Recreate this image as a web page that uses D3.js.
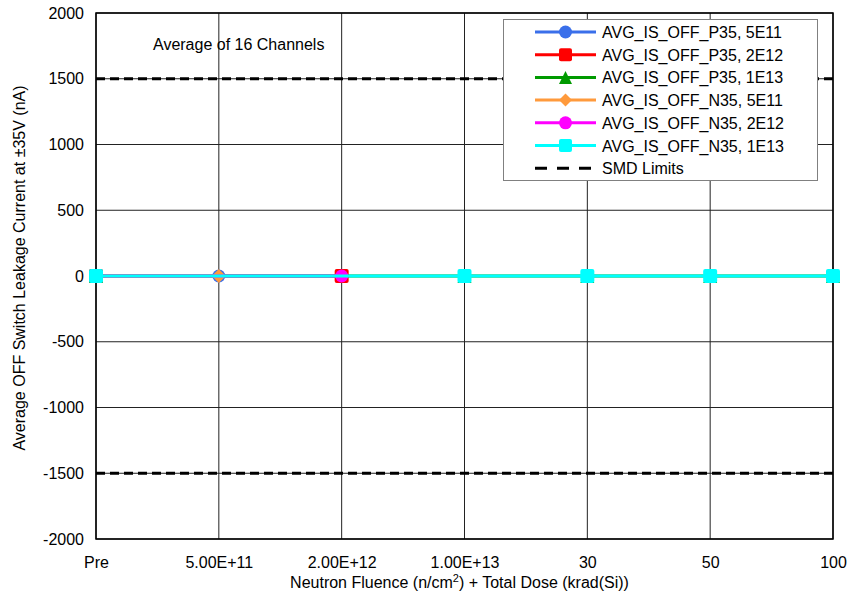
<!DOCTYPE html>
<html>
<head>
<meta charset="utf-8">
<script src="https://cdn.jsdelivr.net/npm/d3@7"></script>
<style>
  html, body { margin: 0; padding: 0; background: #fff; }
  svg text { font-family: "Liberation Sans", Arial, sans-serif; fill: #000; }
</style>
</head>
<body>
<svg id="chart" width="849" height="599"></svg>
<script>
const categories = ["Pre", "5.00E+11", "2.00E+12", "1.00E+13", "30", "50", "100"];
const yTicks = [-2000, -1500, -1000, -500, 0, 500, 1000, 1500, 2000];

const p35_5e11 = [0, 0, null, null, null, null, null];
const p35_2e12 = [0, null, 0, null, null, null, null];
const p35_1e13 = [0, null, null, 0, 0, 0, 0];
const n35_5e11 = [0, 0, null, null, null, null, null];
const n35_2e12 = [0, null, 0, null, null, null, null];
const n35_1e13 = [0, null, null, 0, 0, 0, 0];
const smdUpper = [1500, 1500, 1500, 1500, 1500, 1500, 1500];
const smdLower = [-1500, -1500, -1500, -1500, -1500, -1500, -1500];

const series = [
  { name: "AVG_IS_OFF_P35, 5E11", values: p35_5e11, color: "#3a6fea", marker: "circle" },
  { name: "AVG_IS_OFF_P35, 2E12", values: p35_2e12, color: "#ff0000", marker: "square" },
  { name: "AVG_IS_OFF_P35, 1E13", values: p35_1e13, color: "#009a00", marker: "triangle" },
  { name: "AVG_IS_OFF_N35, 5E11", values: n35_5e11, color: "#ff9a3c", marker: "diamond" },
  { name: "AVG_IS_OFF_N35, 2E12", values: n35_2e12, color: "#ff00ff", marker: "circle" },
  { name: "AVG_IS_OFF_N35, 1E13", values: n35_1e13, color: "#00ffff", marker: "square" }
];

const FONT = 16;
const svg = d3.select("#chart");
const L = 96, R = 833, T = 13, B = 539;

const x = d3.scalePoint().domain(categories).range([L, R]).padding(0);
const y = d3.scaleLinear().domain([-2000, 2000]).range([B, T]);

// gridlines
const grid = svg.append("g");
grid.selectAll("line.h").data(yTicks).join("line")
  .attr("x1", L).attr("x2", R)
  .attr("y1", d => y(d)).attr("y2", d => y(d))
  .attr("stroke", "#222").attr("stroke-width", 1);
grid.selectAll("line.v").data(categories).join("line")
  .attr("x1", d => x(d)).attr("x2", d => x(d))
  .attr("y1", T).attr("y2", B)
  .attr("stroke", "#222").attr("stroke-width", 1);

// axes
const yAxis = d3.axisLeft(y).tickValues(yTicks).tickFormat(d => String(d)).tickSize(0).tickPadding(12);
const yg = svg.append("g").attr("transform", `translate(${L},0)`).call(yAxis);
yg.select(".domain").remove();
yg.selectAll("text").attr("font-size", FONT).attr("font-family", "Liberation Sans, Arial, sans-serif");

const xAxis = d3.axisBottom(x).tickSize(0).tickPadding(18);
const xg = svg.append("g").attr("transform", `translate(0,${B})`).call(xAxis);
xg.select(".domain").remove();
xg.selectAll("text").attr("font-size", FONT).attr("font-family", "Liberation Sans, Arial, sans-serif");

// plot border
svg.append("rect").attr("x", L).attr("y", T).attr("width", R - L).attr("height", B - T)
  .attr("fill", "none").attr("stroke", "#000").attr("stroke-width", 1.5);

// SMD limit lines
const lineGen = d3.line()
  .defined(d => d.v !== null)
  .x(d => x(d.c)).y(d => y(d.v));
const toPts = vals => categories.map((c, i) => ({ c, v: vals[i] })).filter(d => d.v !== null);

[smdUpper, smdLower].forEach(vals => {
  svg.append("path").datum(toPts(vals)).attr("d", lineGen)
    .attr("fill", "none").attr("stroke", "#000").attr("stroke-width", 3)
    .attr("stroke-dasharray", "9,5");
});

// markers
function drawMarker(g, type, cx, cy, color, s) {
  if (type === "circle") {
    g.append("circle").attr("cx", cx).attr("cy", cy).attr("r", s / 2).attr("fill", color);
  } else if (type === "square") {
    g.append("rect").attr("x", cx - s / 2).attr("y", cy - s / 2).attr("width", s).attr("height", s)
      .attr("rx", 2).attr("fill", color);
  } else if (type === "triangle") {
    const h = s;
    g.append("path").attr("d", `M${cx},${cy - h / 2}L${cx + s / 2},${cy + h / 2}L${cx - s / 2},${cy + h / 2}Z`).attr("fill", color);
  } else if (type === "diamond") {
    g.append("path").attr("d", `M${cx},${cy - s / 2}L${cx + s / 2},${cy}L${cx},${cy + s / 2}L${cx - s / 2},${cy}Z`).attr("fill", color);
  }
}

series.forEach(s => {
  const g = svg.append("g");
  g.append("path").datum(toPts(s.values)).attr("d", lineGen)
    .attr("fill", "none").attr("stroke", s.color).attr("stroke-width", 3);
  toPts(s.values).forEach(p => {
    drawMarker(g, s.marker, x(p.c), y(p.v), s.color, s.marker === "circle" ? 13 : 14);
  });
});

// annotation
svg.append("text").attr("x", 153).attr("y", 50).attr("font-size", FONT).text("Average of 16 Channels");

// legend
const lg = svg.append("g");
lg.append("rect").attr("x", 503.5).attr("y", 19.5).attr("width", 314).attr("height", 161)
  .attr("fill", "#fff").attr("stroke", "#808080").attr("stroke-width", 1);
const rowY = i => 32 + i * 22.7;
series.forEach((s, i) => {
  const cy = rowY(i);
  lg.append("line").attr("x1", 535).attr("x2", 596).attr("y1", cy).attr("y2", cy)
    .attr("stroke", s.color).attr("stroke-width", 3);
  drawMarker(lg, s.marker, 565.5, cy, s.color, 13);
  lg.append("text").attr("x", 602).attr("y", cy + 6).attr("font-size", FONT).text(s.name);
});
{
  const cy = rowY(6);
  lg.append("line").attr("x1", 535).attr("x2", 596).attr("y1", cy).attr("y2", cy)
    .attr("stroke", "#000").attr("stroke-width", 3).attr("stroke-dasharray", "12,10");
  lg.append("text").attr("x", 602).attr("y", cy + 6).attr("font-size", FONT).text("SMD Limits");
}

// axis titles
svg.append("text").attr("x", (L + R) / 2 - 5).attr("y", 588).attr("text-anchor", "middle").attr("font-size", FONT)
  .html('Neutron Fluence (n/cm<tspan dy="-6" font-size="11">2</tspan><tspan dy="6">) + Total Dose (krad(Si))</tspan>');
svg.append("text").attr("transform", `translate(25,268) rotate(-90)`).attr("text-anchor", "middle")
  .attr("font-size", FONT).text("Average OFF Switch Leakage Current at ±35V (nA)");
</script>
</body>
</html>
